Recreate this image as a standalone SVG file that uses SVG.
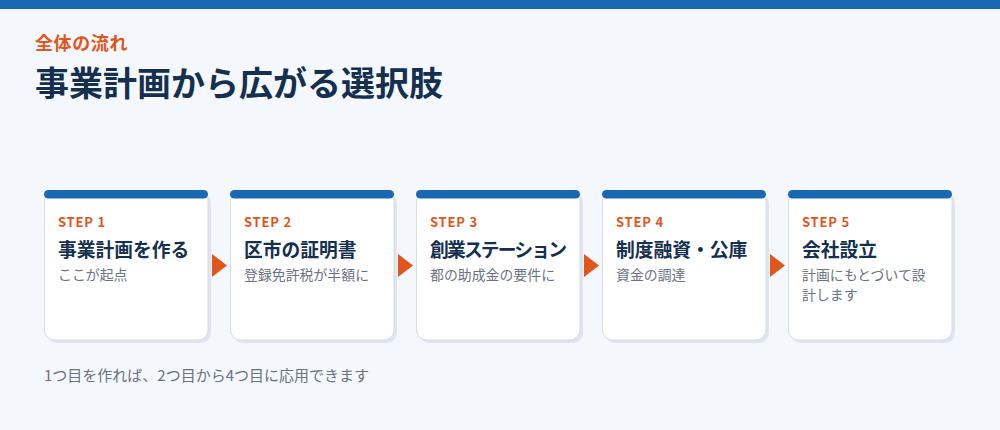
<svg xmlns="http://www.w3.org/2000/svg" width="1000" height="430" viewBox="0 0 1000 430">
<style>
.cjk{font-family:"Noto Sans CJK JP","Noto Sans",sans-serif}
.step{font-family:"Noto Sans CJK JP","Noto Sans",sans-serif;font-size:13px;font-weight:700;fill:#e0561d;letter-spacing:0.8px}
.ttl{font-family:"Noto Sans CJK JP",sans-serif;font-size:18.75px;font-weight:700;fill:#15304f}
.sub{font-family:"Noto Sans CJK JP",sans-serif;font-size:13.9px;fill:#6b7280}
.card{fill:#ffffff;stroke:#d5dde8;stroke-width:1}
.shadow{fill:#dfe5ee}
.bar{fill:#1a68b1}
.arr{fill:#e0561d}
</style>
<rect x="0" y="0" width="1000" height="430" fill="#f4f7fb"/>
<rect x="0" y="0" width="1000" height="9" fill="#1a68b1"/>
<text x="35" y="50" class="cjk" font-size="18" font-weight="700" fill="#e0561d" letter-spacing="0.6">全体の流れ</text>
<text x="35" y="96" class="cjk" font-size="34" font-weight="700" fill="#15304f">事業計画から広がる選択肢</text>

<g id="step1">
<rect x="47" y="193" width="164" height="150" rx="10" class="shadow"/>
<rect x="44.5" y="190.5" width="163.5" height="149.5" rx="10" class="card"/>
<rect x="44" y="190" width="164" height="8.5" rx="4.25" class="bar"/>
<text x="58" y="227" class="step">STEP 1</text>
<text x="58" y="257" class="ttl">事業計画を作る</text>
<text x="58" y="280" class="sub">ここが起点</text>
</g>
<g id="step2">
<rect x="233" y="193" width="164" height="150" rx="10" class="shadow"/>
<rect x="230.5" y="190.5" width="163.5" height="149.5" rx="10" class="card"/>
<rect x="230" y="190" width="164" height="8.5" rx="4.25" class="bar"/>
<text x="244" y="227" class="step">STEP 2</text>
<text x="244" y="257" class="ttl">区市の証明書</text>
<text x="244" y="280" class="sub">登録免許税が半額に</text>
</g>
<g id="step3">
<rect x="419" y="193" width="164" height="150" rx="10" class="shadow"/>
<rect x="416.5" y="190.5" width="163.5" height="149.5" rx="10" class="card"/>
<rect x="416" y="190" width="164" height="8.5" rx="4.25" class="bar"/>
<text x="430" y="227" class="step">STEP 3</text>
<text x="430" y="257" class="ttl" letter-spacing="-1.8">創業ステーション</text>
<text x="430" y="280" class="sub">都の助成金の要件に</text>
</g>
<g id="step4">
<rect x="605" y="193" width="164" height="150" rx="10" class="shadow"/>
<rect x="602.5" y="190.5" width="163.5" height="149.5" rx="10" class="card"/>
<rect x="602" y="190" width="164" height="8.5" rx="4.25" class="bar"/>
<text x="616" y="227" class="step">STEP 4</text>
<text x="616" y="257" class="ttl">制度融資・公庫</text>
<text x="616" y="280" class="sub">資金の調達</text>
</g>
<g id="step5">
<rect x="791" y="193" width="164" height="150" rx="10" class="shadow"/>
<rect x="788.5" y="190.5" width="163.5" height="149.5" rx="10" class="card"/>
<rect x="788" y="190" width="164" height="8.5" rx="4.25" class="bar"/>
<text x="802" y="227" class="step">STEP 5</text>
<text x="802" y="257" class="ttl">会社設立</text>
<text x="802" y="280" class="sub">計画にもとづいて設</text>
<text x="802" y="300" class="sub">計します</text>
</g>

<g id="connectors">
<polygon points="212,254 227,265.5 212,277" class="arr"/>
<polygon points="398,254 413,265.5 398,277" class="arr"/>
<polygon points="584,254 599,265.5 584,277" class="arr"/>
<polygon points="770,254 785,265.5 770,277" class="arr"/>
</g>

<text x="44" y="381" class="cjk" font-size="15" fill="#6b7280">1つ目を作れば、2つ目から4つ目に応用できます</text>
</svg>
